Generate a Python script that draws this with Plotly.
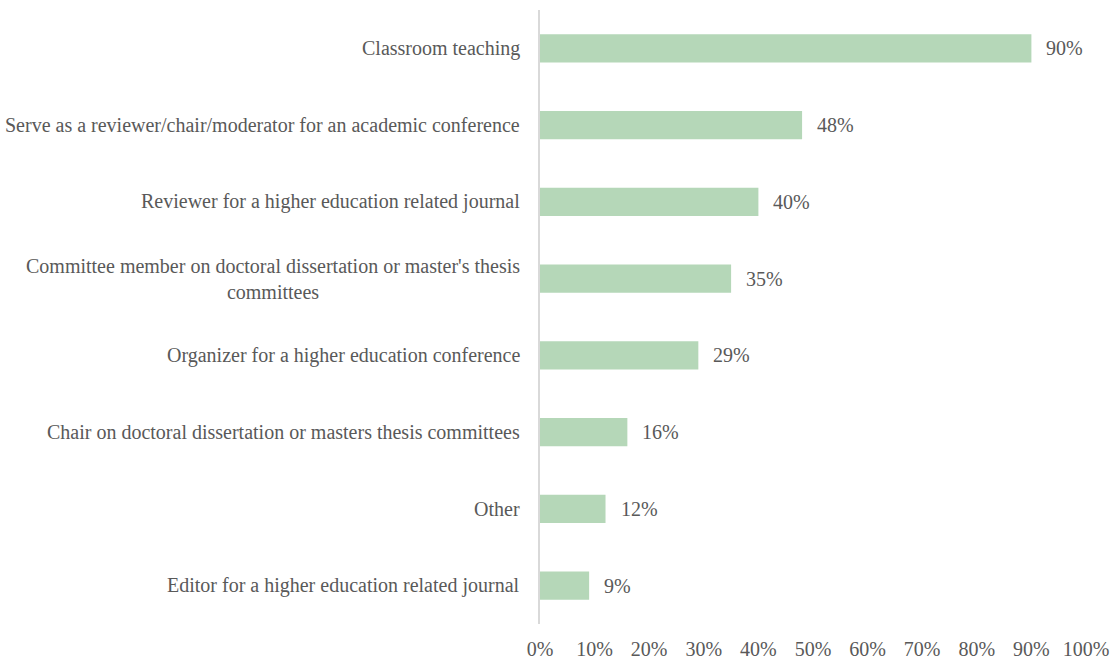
import plotly.graph_objects as go

categories = [
    "Classroom teaching",
    "Serve as a reviewer/chair/moderator for an academic conference",
    "Reviewer for a higher education related journal",
    "Committee member on doctoral dissertation or master's thesis<br>committees",
    "Organizer for a higher education conference",
    "Chair on doctoral dissertation or masters thesis committees",
    "Other",
    "Editor for a higher education related journal",
]
values = [90, 48, 40, 35, 29, 16, 12, 9]
tick_vals = [0, 10, 20, 30, 40, 50, 60, 70, 80, 90, 100]
tick_text = [f"{v}%" for v in tick_vals]

FONT = "Liberation Serif"
TXT = "#595959"
FS = 20

fig = go.Figure()
fig.add_trace(go.Bar(
    x=values, y=categories, orientation="h",
    marker=dict(color="#b5d7b8", line=dict(width=0)),
    width=0.37,
    hoverinfo="skip",
))

annotations = []
for c, v in zip(categories, values):
    annotations.append(dict(
        x=v, y=c, xref="x", yref="y", text=f"{v}%", showarrow=False,
        xanchor="left", xshift=13, font=dict(family=FONT, size=FS, color=TXT),
    ))
    annotations.append(dict(
        x=0, y=c, xref="paper", yref="y", text=c, showarrow=False,
        xanchor="right", align="center", xshift=-18,
        font=dict(family=FONT, size=FS, color=TXT),
    ))

fig.update_layout(
    width=1110, height=661,
    margin=dict(l=540, r=24, t=10, b=37),
    paper_bgcolor="white", plot_bgcolor="white",
    showlegend=False,
    annotations=annotations,
    xaxis=dict(
        range=[0, 100], tickvals=tick_vals, ticktext=tick_text,
        showgrid=False, zeroline=False, showline=False,
        tickfont=dict(family=FONT, size=FS, color=TXT), ticks="",
        ticklabelstandoff=11, automargin=False,
    ),
    yaxis=dict(
        categoryorder="array", categoryarray=categories[::-1],
        showticklabels=False, ticks="", automargin=False,
        showline=True, linecolor="#d9d9d9", linewidth=2,
        showgrid=False, zeroline=False,
    ),
)

fig.write_html(
    "out.html",
    config={"displayModeBar": False},
    post_script="document.body.style.margin='0';document.body.style.overflow='hidden';",
)
